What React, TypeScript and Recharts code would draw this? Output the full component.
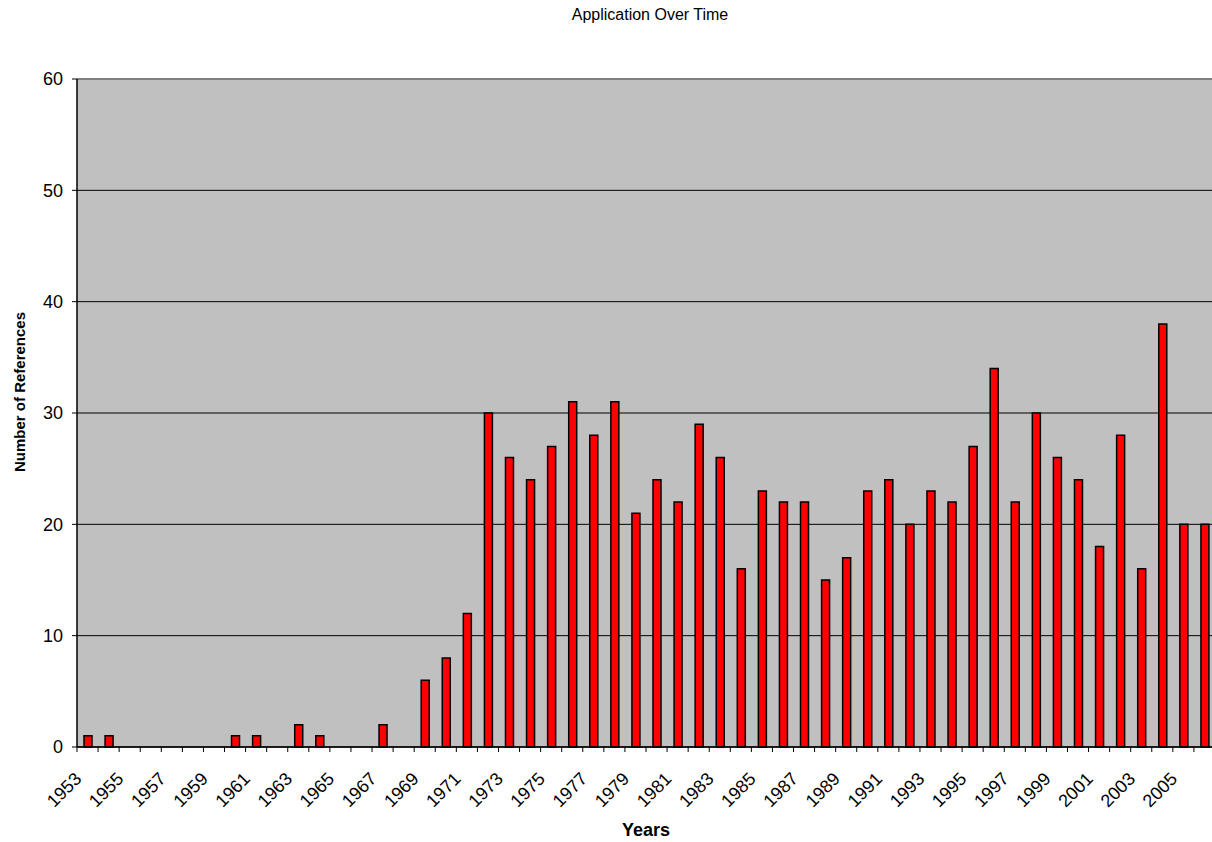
import { Bar, BarChart, CartesianGrid, ReferenceLine, XAxis, YAxis } from 'recharts';

const years = [
  '1953', '1954', '1955', '1956', '1957', '1958', '1959', '1960', '1961', '1962',
  '1963', '1964', '1965', '1966', '1967', '1968', '1969', '1970', '1971', '1972',
  '1973', '1974', '1975', '1976', '1977', '1978', '1979', '1980', '1981', '1982',
  '1983', '1984', '1985', '1986', '1987', '1988', '1989', '1990', '1991', '1992',
  '1993', '1994', '1995', '1996', '1997', '1998', '1999', '2000', '2001', '2002',
  '2003', '2004', '2005', '2006',
];

const references = [
  1, 1, 0, 0, 0, 0, 0, 1, 1, 0,
  2, 1, 0, 0, 2, 0, 6, 8, 12, 30,
  26, 24, 27, 31, 28, 31, 21, 24, 22, 29,
  26, 16, 23, 22, 22, 15, 17, 23, 24, 20,
  23, 22, 27, 34, 22, 30, 26, 24, 18, 28,
  16, 38, 20, 20,
];

const yTicks = [0, 10, 20, 30, 40, 50, 60];

const data = years.map((year, i) => ({ year, count: references[i] }));

const CHART_W = 1215;
const CHART_H = 842;
const Y_W = 77;
const AXIS_Y = 747;
const BAND = (CHART_W - Y_W) / years.length;
const FONT = 'Arial, "Liberation Sans", sans-serif';

// Excel-style category axis: ticks between categories, every other year labelled
function YearTick(props: any) {
  const { x, index, payload } = props;
  const edge = x - BAND / 2;
  const ax = x - 5;
  const ay = AXIS_Y + 33;
  return (
    <g>
      <line x1={edge} y1={AXIS_Y} x2={edge} y2={AXIS_Y + 5} stroke="#000" strokeWidth={1} />
      {index % 2 === 0 && (
        <text
          x={ax}
          y={ay}
          textAnchor="end"
          fontSize={18}
          fontFamily={FONT}
          fill="#000"
          transform={`rotate(-45, ${ax}, ${ay})`}
        >
          {payload.value}
        </text>
      )}
    </g>
  );
}

export default function App() {
  return (
    <div style={{ position: 'absolute', left: 0, top: 0, width: 1212, height: 842, overflow: 'hidden', background: '#fff' }}>
      <BarChart width={CHART_W} height={CHART_H} data={data} margin={{ top: 79, right: 0, bottom: 0, left: 0 }} barCategoryGap={0}>
        <CartesianGrid vertical={false} stroke="#000" strokeWidth={1} fill="#C0C0C0" fillOpacity={1} />
        <XAxis
          dataKey="year"
          height={95}
          interval={0}
          tickLine={false}
          tickSize={0}
          tickMargin={0}
          axisLine={{ stroke: '#000', strokeWidth: 1.5 }}
          tick={<YearTick />}
        />
        <YAxis
          width={Y_W}
          domain={[0, 60]}
          ticks={yTicks}
          tickSize={5}
          tickMargin={9}
          axisLine={{ stroke: '#000', strokeWidth: 1.5 }}
          tickLine={{ stroke: '#000' }}
          tick={{ fontSize: 18, fontFamily: FONT, fill: '#000' }}
        />
        <ReferenceLine y={60} stroke="#808080" strokeWidth={2} />
        <Bar dataKey="count" fill="#FF0000" stroke="#000" strokeWidth={1.5} barSize={8} isAnimationActive={false} />
      </BarChart>
      <svg width={1212} height={842} style={{ position: 'absolute', left: 0, top: 0, pointerEvents: 'none' }}>
        <text x={650} y={20} textAnchor="middle" fontSize={16} fontFamily={FONT} fill="#000">
          Application Over Time
        </text>
        <text x={646} y={836} textAnchor="middle" fontSize={18} fontWeight="bold" fontFamily={FONT} fill="#000">
          Years
        </text>
        <text
          x={25}
          y={392}
          textAnchor="middle"
          fontSize={15}
          fontWeight="bold"
          fontFamily={FONT}
          fill="#000"
          transform="rotate(-90, 25, 392)"
        >
          Number of References
        </text>
      </svg>
    </div>
  );
}
